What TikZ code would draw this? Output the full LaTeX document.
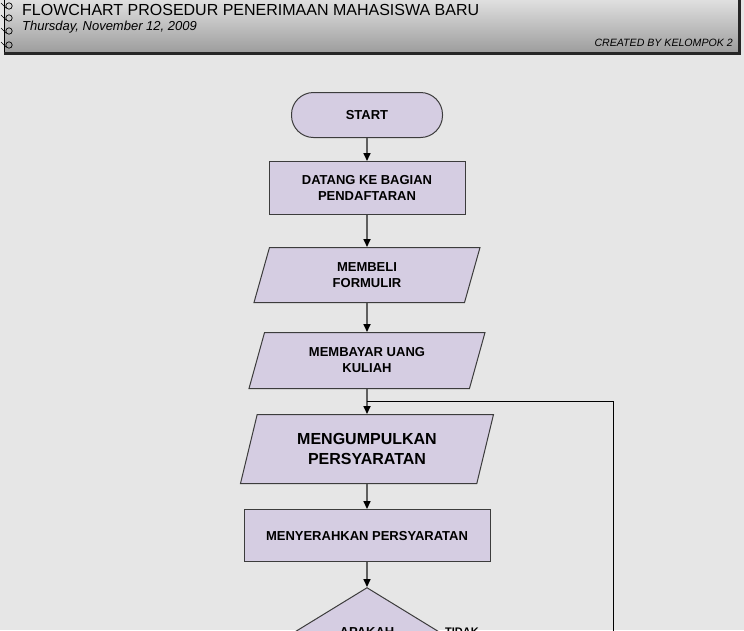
\documentclass[tikz,border=0pt]{standalone}
\usepackage{fontspec}
\setmainfont{Liberation Sans}
\usetikzlibrary{arrows.meta,calc,positioning,shapes.geometric}
\definecolor{latar}{RGB}{230,230,230}
\definecolor{ungu}{RGB}{213,205,226}
\definecolor{garis}{RGB}{60,60,60}
\definecolor{panah}{RGB}{95,95,95}
\definecolor{kepalaatas}{RGB}{226,226,226}
\definecolor{kepalabawah}{RGB}{155,155,155}

\begin{document}
\begin{tikzpicture}[x=1pt,y=1pt,>={Triangle[length=8pt,width=7pt,color=black]},
                    node distance=25pt,font=\fontsize{13}{16}\selectfont\bfseries,
                    proses/.style={rectangle,draw=garis,fill=ungu,line width=1pt,align=center},
                    mulai/.style={proses,rounded corners=22pt},
                    dataio/.style={trapezium,trapezium left angle=64,trapezium right angle=116,
                                   trapezium stretches body,draw=garis,fill=ungu,line width=1pt,align=center},
                    keputusan/.style={diamond,draw=garis,fill=ungu,line width=1pt,align=center,inner sep=1pt},
                    alur/.style={->,draw=panah,line width=1.6pt}]

  % page and header
  \fill[latar] (0,0) rectangle (744,-630);
  \useasboundingbox (0,0) rectangle (744,-630);
  \shade[top color=kepalaatas,bottom color=kepalabawah] (4,2) rectangle (740,-54);
  \draw[black,line width=0.7pt] (4,2) -- (4,-54);
  \draw[black!85,line width=2.2pt] (4,-53.5) -- (739.5,-53.5) -- (739.5,2);
  \foreach \y in {6,18,31,45} {
    \draw[black,line width=0.7pt] (9,-\y) circle (3.2pt);
    \draw[black,line width=0.7pt] (1,-\y+3) .. controls (4,-\y+1) .. (6,-\y-2);
  }
  \node[anchor=base west,inner sep=0,font=\fontsize{16}{18}\selectfont] (judul) at (22,-15)
    {FLOWCHART PROSEDUR PENERIMAAN MAHASISWA BARU};
  \node[anchor=base west,inner sep=0,font=\fontsize{13}{15}\selectfont\itshape] (tanggal) at (22,-30)
    {Thursday, November 12, 2009};
  \node[anchor=base east,inner sep=0,font=\fontsize{10.6}{12}\selectfont\itshape] (kelompok) at (733,-46)
    {CREATED BY KELOMPOK 2};

  % flowchart
  \node[mulai,minimum width=151pt,minimum height=45pt] (start) at (367,-115) {START};
  \node[proses,minimum width=196pt,minimum height=53pt] (datang) [below=23pt of start]
    {DATANG KE BAGIAN\\PENDAFTARAN};
  \node[dataio,minimum width=226pt,minimum height=55pt] (formulir) [below=32pt of datang]
    {MEMBELI\\FORMULIR};
  \node[dataio,minimum width=236pt,minimum height=56pt] (bayar) [below=29pt of formulir]
    {MEMBAYAR UANG\\KULIAH};
  \node[dataio,trapezium left angle=66,trapezium right angle=114,minimum width=253pt,minimum height=69pt,
        font=\fontsize{16}{19.5}\selectfont\bfseries] (kumpul) [below=25pt of bayar]
    {MENGUMPULKAN\\PERSYARATAN};
  \node[proses,minimum width=246pt,minimum height=52pt] (serah) [below=25pt of kumpul]
    {MENYERAHKAN PERSYARATAN};
  \node[keputusan,minimum width=163pt,minimum height=100pt] (tanya) [below=25pt of serah] {};
  \node[inner sep=0] (apakah) at ([yshift=6pt]tanya.center) {APAKAH};
  \node[anchor=north west,inner sep=0,font=\fontsize{11}{13}\selectfont\bfseries] (tidak)
    at ([xshift=-4pt,yshift=10pt]tanya.east) {TIDAK};

  \coordinate (gabung) at ($(bayar.south)!0.5!(kumpul.north)$);

  \path[alur]
    (start)    edge (datang)
    (datang)   edge (formulir)
    (formulir) edge (bayar)
    (bayar)    edge (kumpul)
    (kumpul)   edge (serah)
    (serah)    edge (tanya);

  \draw[black,line width=1pt] (tanya.east) -- ++(164pt,0) |- (gabung);
\end{tikzpicture}
\end{document}
